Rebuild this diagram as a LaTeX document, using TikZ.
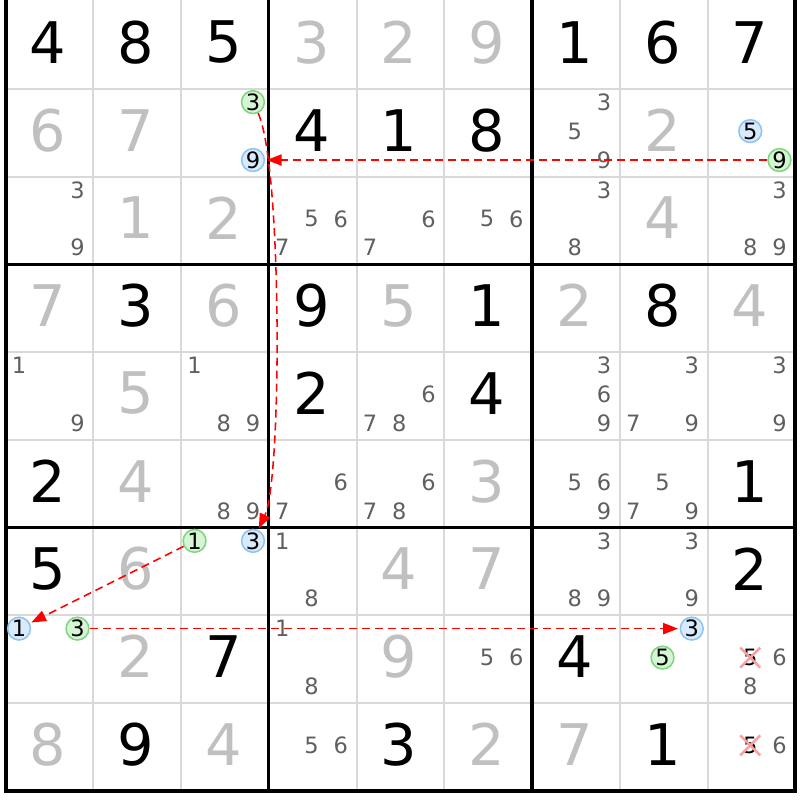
\documentclass[tikz,border=0pt]{standalone}
\usepackage{fontspec}
\setmainfont{DejaVu Sans}
\usetikzlibrary{arrows.meta,shapes.misc}
\definecolor{solvedgray}{HTML}{C0C0C0}
\definecolor{candgray}{HTML}{5F5F5F}
\definecolor{gridgray}{HTML}{D9D9D9}
\definecolor{onfill}{HTML}{D5F5D5}
\definecolor{ondraw}{HTML}{7ED67E}
\definecolor{offfill}{HTML}{D8EAFC}
\definecolor{offdraw}{HTML}{8EC4F4}
\definecolor{crosspink}{HTML}{F4A0A0}

\begin{document}
\begin{tikzpicture}[x=1cm,y=-1cm,
	given/.style={font=\fontsize{18.6}{20}\selectfont,text=black,inner sep=0pt},
	solved/.style={given,text=solvedgray},
	cand/.style={font=\fontsize{7.3}{8}\selectfont,text=candgray,inner sep=0pt},
	oncand/.style={cand,text=black,circle,draw=ondraw,fill=onfill,line width=0.5pt,minimum size=0.26cm},
	offcand/.style={oncand,draw=offdraw,fill=offfill},
	elim/.style={cand,text=black,cross out,draw=crosspink,line width=0.8pt,minimum size=0.2cm},
	link/.style={red,dash pattern=on 2.6pt off 1.6pt,line width=0.5pt,-{Triangle[length=4.8pt,width=3.6pt]},shorten >=0.5pt}]
	\useasboundingbox (-0.063,-0.014) rectangle (9.046,9.103);
	\clip (-0.063,-0.014) rectangle (9.046,9.103);
	% grid
	\foreach \i in {1,...,8} {
		\draw[gridgray,line width=0.65pt] (\i,-0.1) -- (\i,9);
		\draw[gridgray,line width=0.65pt] (0,\i) -- (9,\i);
	}
	\foreach \i in {3,6} {
		\draw[line width=1.1pt] (\i,-0.1) -- (\i,9);
		\draw[line width=1.1pt] (0,\i) -- (9,\i);
	}
	\draw[line width=1.3pt,line join=miter] (0,-0.1) -- (0,9) -- (9,9) -- (9,-0.1);
	% given digits
	\foreach \r/\c/\v in {1/1/4,1/2/8,1/3/5,1/7/1,1/8/6,1/9/7,2/4/4,2/5/1,2/6/8,
		4/2/3,4/4/9,4/6/1,4/8/8,5/4/2,5/6/4,6/1/2,6/9/1,7/1/5,7/9/2,
		8/3/7,8/7/4,9/2/9,9/5/3,9/8/1}
		\node[given] (v\r\c) at (\c-0.515,\r-0.53) {\v};
	% solved digits
	\foreach \r/\c/\v in {1/4/3,1/5/2,1/6/9,2/1/6,2/2/7,2/8/2,3/2/1,3/3/2,3/8/4,
		4/1/7,4/3/6,4/5/5,4/7/2,4/9/4,5/2/5,6/2/4,6/6/3,7/2/6,7/5/4,7/6/7,
		8/2/2,8/5/9,9/1/8,9/3/4,9/6/2,9/7/7}
		\node[solved] (v\r\c) at (\c-0.515,\r-0.53) {\v};
	% candidates
	\foreach \r/\c/\ds in {2/7/{3,5,9},3/1/{3,9},3/4/{5,6,7},3/5/{6,7},3/6/{5,6},
		3/7/{3,8},3/9/{3,8,9},5/1/{1,9},5/3/{1,8,9},5/5/{6,7,8},5/7/{3,6,9},
		5/8/{3,7,9},5/9/{3,9},6/3/{8,9},6/4/{6,7},6/5/{6,7,8},6/7/{5,6,9},
		6/8/{5,7,9},7/4/{1,8},7/7/{3,8,9},7/8/{3,9},8/4/{1,8},8/6/{5,6},
		8/9/{6,8},9/4/{5,6},9/9/{6}} {
		\foreach \d in \ds {
			\pgfmathsetmacro\px{\c-0.513+0.333*(mod(\d-1,3)-1)}
			\pgfmathsetmacro\py{\r-0.52+0.33*(floor((\d-1)/3)-1)}
			\node[cand] (k\r\c\d) at (\px,\py) {\d};
		}
	}
	% chain
	\node[oncand] (r2c3-3) at (2.82,1.15) {3};
	\node[offcand] (r2c3-9) at (2.82,1.81) {9};
	\node[offcand] (r2c9-5) at (8.487,1.48) {5};
	\node[oncand] (r2c9-9) at (8.82,1.81) {9};
	\node[oncand] (r7c3-1) at (2.154,6.15) {1};
	\node[offcand] (r7c3-3) at (2.82,6.15) {3};
	\node[offcand] (r8c1-1) at (0.154,7.15) {1};
	\node[oncand] (r8c1-3) at (0.82,7.15) {3};
	\node[offcand] (r8c8-3) at (7.82,7.15) {3};
	\node[oncand] (r8c8-5) at (7.487,7.48) {5};
	\node[elim] (x89) at (8.487,7.48) {5};
	\node[elim] (x99) at (8.487,8.48) {5};
	\draw[link] (r2c9-9) -- (r2c3-9);
	\draw[link] (r2c3-3) to[out=-65,in=65,looseness=0.35] (r7c3-3);
	\draw[link] (r7c3-1) -- (r8c1-1);
	\draw[link] (r8c1-3) -- (r8c8-3);
\end{tikzpicture}
\end{document}
